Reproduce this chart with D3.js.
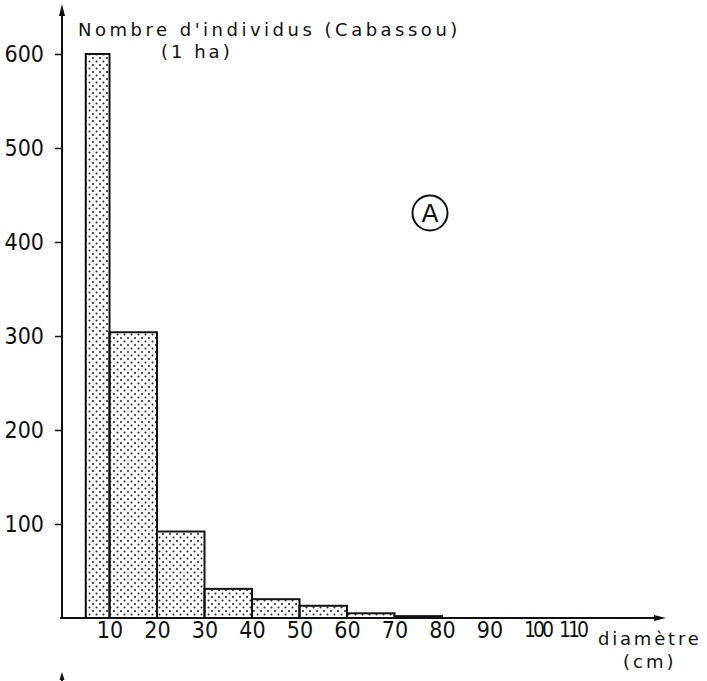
<!DOCTYPE html>
<meta charset="utf-8">
<style>
body { margin: 0; background: white; }
svg { display: block; }
text { font-family: "DejaVu Sans", sans-serif; fill: #111; }
</style>
<svg width="707" height="681"></svg>
<script src="https://cdn.jsdelivr.net/npm/d3@7"></script>
<script>

// diameter classes (cm) and counts per hectare
var classStart = [5, 10, 20, 30, 40, 50, 60, 70];
var classEnd   = [10, 20, 30, 40, 50, 60, 70, 80];
var counts     = [600, 304, 92, 31, 20, 13, 5, 2];

var yTicks = [100, 200, 300, 400, 500, 600];
var xTicks = [10, 20, 30, 40, 50, 60, 70, 80, 90, 100, 110];

var svg = d3.select("svg");

var x = d3.scaleLinear().domain([0, 100]).range([62, 537]),
    y = d3.scaleLinear().domain([0, 600]).range([618, 54]);

// dotted fill like the old screen-tone
var defs = svg.append("defs");
var pat = defs.append("pattern")
    .attr("id", "dots")
    .attr("patternUnits", "userSpaceOnUse")
    .attr("width", 7)
    .attr("height", 7);
pat.append("circle").attr("cx", 2).attr("cy", 2).attr("r", 1).attr("fill", "#222");
pat.append("circle").attr("cx", 5.5).attr("cy", 5.5).attr("r", 1).attr("fill", "#222");

var bars = d3.range(counts.length).map(function(i) {
  return {x0: classStart[i], x1: classEnd[i], n: counts[i]};
});

svg.selectAll("rect.bar")
  .data(bars)
  .enter().append("rect")
    .attr("class", "bar")
    .attr("x", function(d) { return x(d.x0); })
    .attr("y", function(d) { return y(d.n); })
    .attr("width", function(d) { return x(d.x1) - x(d.x0); })
    .attr("height", function(d) { return y(0) - y(d.n); })
    .attr("fill", "url(#dots)")
    .attr("stroke", "#111")
    .attr("stroke-width", 2);

// ticks and labels from d3 axes
var yAxis = svg.append("g")
    .attr("transform", "translate(" + x(0) + ",0)")
    .call(d3.axisLeft(y).tickValues(yTicks).tickSize(7).tickPadding(11));
yAxis.select(".domain").remove();
yAxis.selectAll("line").attr("stroke", "#111").attr("stroke-width", 1.5);
yAxis.selectAll("text")
    .style("font-size", "23px")
    .style("font-family", "'DejaVu Sans Condensed', sans-serif")
    .attr("fill", "#111");

var xAxis = svg.append("g")
    .attr("transform", "translate(0," + y(0) + ")")
    .call(d3.axisBottom(x).tickValues(xTicks).tickSize(0).tickPadding(4));
xAxis.select(".domain").remove();
xAxis.selectAll("text")
    .style("font-size", "23px")
    .style("font-family", "'DejaVu Sans Condensed', sans-serif")
    .attr("fill", "#111");
// the three-digit labels are set tighter in the print
xAxis.selectAll("text")
    .filter(function(d) { return d >= 100; })
    .style("font-size", "21px")
    .style("letter-spacing", "-3px");
xAxis.selectAll("text")
    .filter(function(d) { return d === 110; })
    .attr("text-anchor", "end")
    .attr("x", 1);

// axis lines with arrows
svg.append("line")
    .attr("x1", x(0)).attr("y1", y(0))
    .attr("x2", x(0)).attr("y2", 14)
    .attr("stroke", "#111").attr("stroke-width", 2);
svg.append("path")
    .attr("d", "M" + x(0) + ",4 L" + (x(0) - 3) + ",16 L" + (x(0) + 3) + ",16 Z")
    .attr("fill", "#111");

svg.append("line")
    .attr("x1", x(0) - 2).attr("y1", y(0))
    .attr("x2", 656).attr("y2", y(0))
    .attr("stroke", "#111").attr("stroke-width", 2);
svg.append("path")
    .attr("d", "M666," + y(0) + " L654," + (y(0) - 3) + " L654," + (y(0) + 3) + " Z")
    .attr("fill", "#111");

// start of next panel's axis at the bottom edge
svg.append("line")
    .attr("x1", x(0)).attr("y1", 681)
    .attr("x2", x(0)).attr("y2", 676)
    .attr("stroke", "#111").attr("stroke-width", 2);
svg.append("path")
    .attr("d", "M" + x(0) + ",672 L" + (x(0) - 2.5) + ",680 L" + (x(0) + 2.5) + ",680 Z")
    .attr("fill", "#111");

// titles
svg.append("text")
    .attr("x", 78).attr("y", 36)
    .style("font-size", "18px")
    .style("letter-spacing", "3.5px")
    .text("Nombre d'individus (Cabassou)");
svg.append("text")
    .attr("x", 161).attr("y", 58)
    .style("font-size", "18px")
    .style("letter-spacing", "3px")
    .text("(1 ha)");

svg.append("text")
    .attr("x", 598).attr("y", 645)
    .style("font-size", "18px")
    .style("letter-spacing", "2.8px")
    .text("diamètre");
svg.append("text")
    .attr("x", 623).attr("y", 668)
    .style("font-size", "18px")
    .style("letter-spacing", "3px")
    .text("(cm)");

// circled panel letter
svg.append("circle")
    .attr("cx", 430).attr("cy", 213).attr("r", 17.5)
    .attr("fill", "none").attr("stroke", "#111").attr("stroke-width", 2);
svg.append("text")
    .attr("x", 430).attr("y", 222)
    .attr("text-anchor", "middle")
    .style("font-size", "25px")
    .text("A");

</script>
